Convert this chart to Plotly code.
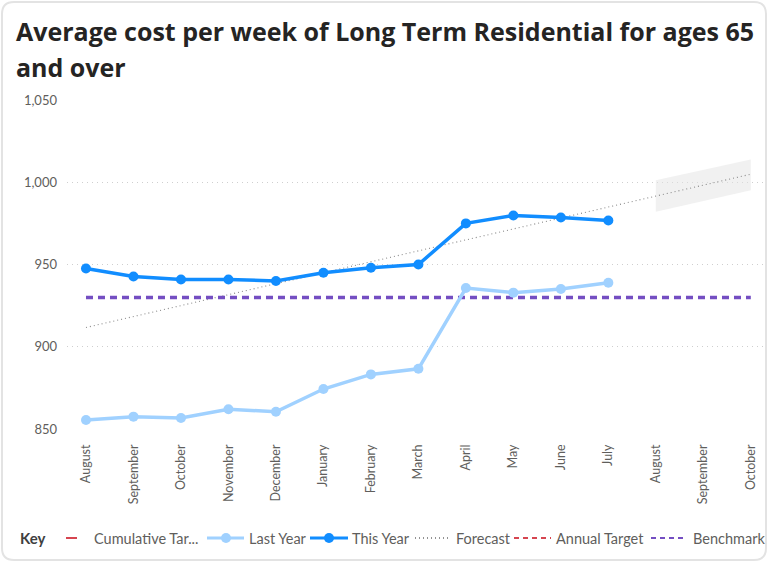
import plotly.graph_objects as go

months = ["August", "September", "October", "November", "December", "January",
          "February", "March", "April", "May", "June", "July",
          "August", "September", "October"]
this_year = [947.6, 942.7, 940.9, 940.9, 940.0, 945.0, 948.0, 950.0, 975.0, 979.8, 978.6, 976.7]
last_year = [855.5, 857.5, 856.7, 862.0, 860.5, 874.3, 883.2, 886.6, 935.7, 932.9, 935.1, 938.9]
benchmark = [930] * 15
forecast_idx = [0, 14]
forecast_vals = [911.7, 1004.9]
band_idx = [12, 14]
band_upper = [1001.2, 1013.8]
band_lower = [982.0, 995.1]
y_ticks = [850, 900, 950, 1000, 1050]
legend_names = ["Cumulative Tar...", "Last Year", "This Year", "Forecast", "Annual Target", "Benchmark"]

W, H = 769, 562
L, R, T, B = 67, 3, 100, 133
PW, PH = W - L - R, H - T - B

def px(x):
    return (x - L) / PW

def py(y):
    return (H - B - y) / PH

C_THIS = "#118DFF"
C_LAST = "#A0D1FF"
C_BENCH = "#744EC2"
C_RED = "#D64550"
C_FC = "#8a8a8a"

idx = list(range(len(months)))
fig = go.Figure()

# forecast band
fig.add_trace(go.Scatter(x=band_idx + band_idx[::-1], y=band_upper + band_lower[::-1],
                         fill="toself", fillcolor="rgba(228,228,228,0.5)",
                         line=dict(width=0), mode="lines", showlegend=False, hoverinfo="skip"))
fig.add_trace(go.Scatter(x=forecast_idx, y=forecast_vals, mode="lines", name="Forecast",
                         line=dict(color=C_FC, width=1.1, dash="1px,3px")))
fig.add_trace(go.Scatter(x=idx, y=benchmark, mode="lines", name="Benchmark",
                         line=dict(color=C_BENCH, width=3.5, dash="7px,5px")))
fig.add_trace(go.Scatter(x=idx[:len(last_year)], y=last_year, mode="lines+markers", name="Last Year",
                         line=dict(color=C_LAST, width=3.5), marker=dict(size=10, color=C_LAST)))
fig.add_trace(go.Scatter(x=idx[:len(this_year)], y=this_year, mode="lines+markers", name="This Year",
                         line=dict(color=C_THIS, width=3.5), marker=dict(size=10, color=C_THIS)))

# card border
r = 12
x0, x1, y0, y1 = 2, 766, 2, 560
path = (f"M {px(x0+r)},{py(y0)} L {px(x1-r)},{py(y0)} Q {px(x1)},{py(y0)} {px(x1)},{py(y0+r)} "
        f"L {px(x1)},{py(y1-r)} Q {px(x1)},{py(y1)} {px(x1-r)},{py(y1)} "
        f"L {px(x0+r)},{py(y1)} Q {px(x0)},{py(y1)} {px(x0)},{py(y1-r)} "
        f"L {px(x0)},{py(y0+r)} Q {px(x0)},{py(y0)} {px(x0+r)},{py(y0)} Z")
fig.add_shape(type="path", path=path, xref="paper", yref="paper",
              line=dict(color="#e3e3e3", width=2), layer="below")

title_font = dict(family="Open Sans", size=25, color="#252423", weight=700)
fig.add_annotation(text="<b>Average cost per week of Long Term Residential for ages 65</b>",
                   xref="paper", yref="paper", x=px(14), y=py(31), xanchor="left", yanchor="middle",
                   showarrow=False, font=title_font)
fig.add_annotation(text="<b>and over</b>",
                   xref="paper", yref="paper", x=px(14), y=py(67), xanchor="left", yanchor="middle",
                   showarrow=False, font=title_font)

# manual key (legend)
LY = 538
leg_font = dict(family="Lato", size=14.5, color="#605E5C")
fig.add_annotation(text="<b>Key</b>", xref="paper", yref="paper", x=px(18), y=py(LY),
                   xanchor="left", yanchor="middle", showarrow=False,
                   font=dict(family="Lato", size=15, color="#404040"))
symbols = [
    (66, 77, C_RED, "solid", 2, None, 92),
    (207, 244, C_LAST, "solid", 3, 226, 247),
    (310, 348, C_THIS, "solid", 3, 329, 350),
    (415, 450, "#707070", "1px,3px", 1.5, None, 454),
    (514, 551, C_RED, "5px,4px", 2, None, 554),
    (651, 687, C_BENCH, "5px,4px", 2, None, 691),
]
for name, (sx0, sx1, col, dash, w, mk, tx) in zip(legend_names, symbols):
    fig.add_shape(type="line", xref="paper", yref="paper", x0=px(sx0), x1=px(sx1),
                  y0=py(LY), y1=py(LY), line=dict(color=col, width=w, dash=dash))
    if mk is not None:
        fig.add_shape(type="circle", xref="paper", yref="paper", x0=px(mk - 5), x1=px(mk + 5),
                      y0=py(LY + 5), y1=py(LY - 5), fillcolor=col, line=dict(width=0))
    fig.add_annotation(text=name, xref="paper", yref="paper", x=px(tx), y=py(LY),
                       xanchor="left", yanchor="middle", showarrow=False, font=leg_font)

fig.update_layout(
    width=W, height=H,
    margin=dict(l=L, r=R, t=T, b=B),
    paper_bgcolor="white", plot_bgcolor="white",
    font=dict(family="Open Sans", color="#605E5C"),
    showlegend=False,
    xaxis=dict(range=[-0.4, 14.32], tickmode="array", tickvals=idx, ticktext=months,
               tickangle=-90, showgrid=False, zeroline=False, showline=False,
               tickfont=dict(family="Lato", size=12.5, color="#605E5C"), ticks="", ticklen=0,
               ticklabelstandoff=12),
    yaxis=dict(range=[850, 1050], tickmode="array", tickvals=y_ticks,
               ticktext=[f"{v:,}" for v in y_ticks], showgrid=True,
               gridcolor="#cfcfcf", griddash="1px,4px", gridwidth=1, zeroline=False,
               showline=False, tickfont=dict(family="Lato", size=13, color="#605E5C"), ticks="",
               ticklabelstandoff=9),
)

fig.write_html("out.html", config={"displayModeBar": False},
               post_script="document.body.style.margin='0';document.body.style.overflow='hidden';")
